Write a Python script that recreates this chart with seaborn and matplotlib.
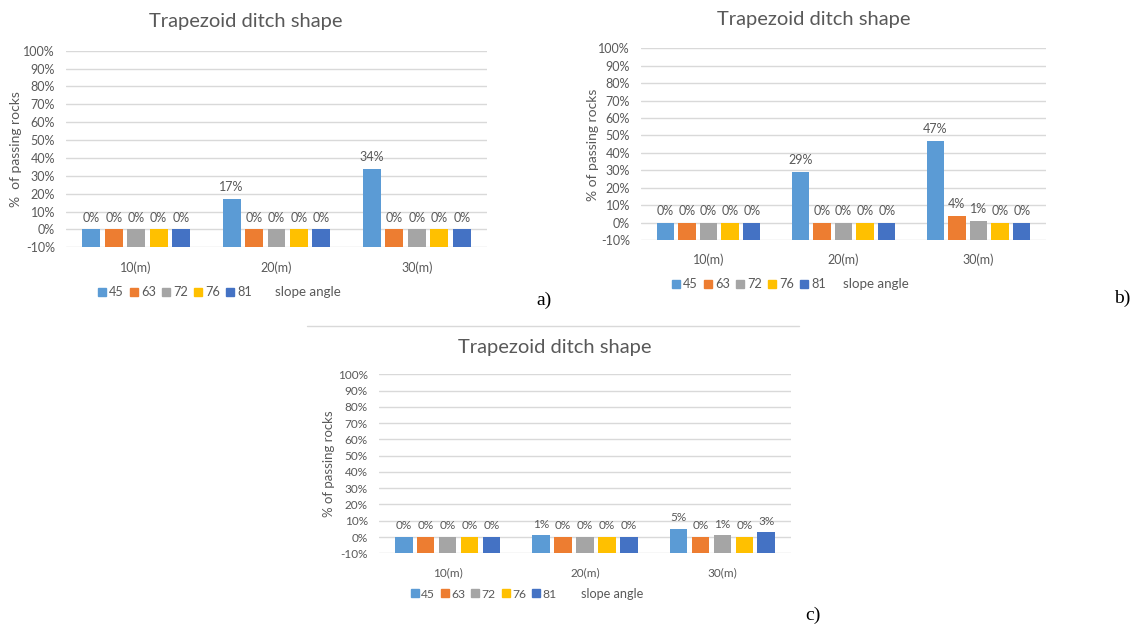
import numpy as np
import pandas as pd
import matplotlib
matplotlib.use("Agg")
import matplotlib.pyplot as plt
from matplotlib.lines import Line2D
import seaborn as sns

# ---- data -------------------------------------------------------------
distances = ["10(m)", "20(m)", "30(m)"]
angles = ["45", "63", "72", "76", "81"]

# % of passing rocks, one row per distance, one column per slope angle
panel_a = [[0, 0, 0, 0, 0],
           [17, 0, 0, 0, 0],
           [34, 0, 0, 0, 0]]
panel_b = [[0, 0, 0, 0, 0],
           [29, 0, 0, 0, 0],
           [47, 4, 1, 0, 0]]
panel_c = [[0, 0, 0, 0, 0],
           [1, 0, 0, 0, 0],
           [5, 0, 1, 0, 3]]

y_ticks = list(range(-10, 101, 10))
title = "Trapezoid ditch shape"
legend_title = "slope angle"

colors = ["#5B9BD5", "#ED7D31", "#A5A5A5", "#FFC000", "#4472C4"]
palette = dict(zip(angles, colors))

TXT = "#595959"
GRID = "#D9D9D9"
W, H = 1135, 625

sns.set_theme(style="white")
plt.rcParams["font.family"] = ["Lato", "DejaVu Sans"]

fig = plt.figure(figsize=(W / 100, H / 100), dpi=100)


def fx(px):
    return px / W


def fy(py):
    return 1 - py / H


def long_form(values):
    rows = []
    for d, row in zip(distances, values):
        for a, v in zip(angles, row):
            rows.append({"distance": d, "angle": a, "value": v})
    return pd.DataFrame(rows)


def draw_panel(values, box, title_xy, ylabel, ylabel_xy, legend_xy, slope_x,
               tag, tag_xy, fs=9.0):
    left, top, right, bottom = box
    ax = fig.add_axes([fx(left), fy(bottom), fx(right - left), (bottom - top) / H])
    df = long_form(values)
    sns.barplot(data=df, x="distance", y="value", hue="angle",
                order=distances, hue_order=angles, palette=palette,
                saturation=1, width=0.8, gap=0.2, linewidth=0,
                errorbar=None, legend=False, ax=ax)
    ymin = y_ticks[0]
    # bars rise from the bottom of the value axis, as in the spreadsheet chart
    for cont in ax.containers:
        for patch, v in zip(cont.patches, cont.datavalues):
            patch.set_y(ymin)
            patch.set_height(v - ymin)
        ax.bar_label(cont, labels=[f"{v:.0f}%" for v in cont.datavalues],
                     padding=4, fontsize=fs, color=TXT)
    ax.set_ylim(ymin, y_ticks[-1])
    ax.set_xlim(-0.5, len(distances) - 0.5)
    ax.set_yticks(y_ticks)
    ax.set_yticklabels([f"{t}%" for t in y_ticks])
    ax.yaxis.grid(True, color=GRID, linewidth=1)
    ax.set_axisbelow(True)
    for s in ax.spines.values():
        s.set_visible(False)
    ax.tick_params(axis="both", length=0, colors=TXT, labelsize=fs)
    ax.tick_params(axis="x", pad=10)
    ax.tick_params(axis="y", pad=8)
    ax.set_xlabel("")
    ax.set_ylabel("")
    ax.set_facecolor("none")

    fig.text(fx(title_xy[0]), fy(title_xy[1]), title, ha="center", va="center",
             fontsize=14.5, color=TXT)
    fig.text(fx(ylabel_xy[0]), fy(ylabel_xy[1]), ylabel, ha="center", va="center",
             rotation=90, fontsize=fs + 1, color=TXT)

    handles = [Line2D([], [], marker="s", linestyle="none", color=c,
                      markersize=6) for c in colors]
    fig.legend(handles, angles, loc="center left",
               bbox_to_anchor=(fx(legend_xy[0]), fy(legend_xy[1])),
               ncol=len(angles), frameon=False, fontsize=fs + 0.2,
               labelcolor=TXT, handlelength=0.6, handletextpad=0.25,
               columnspacing=0.5, borderpad=0, borderaxespad=0)
    fig.text(fx(slope_x), fy(legend_xy[1]), legend_title, ha="left",
             va="center", fontsize=fs + 0.6, color=TXT)
    fig.text(fx(tag_xy[0]), fy(tag_xy[1]), tag, ha="left", va="center",
             fontsize=14, color="black", family="Liberation Serif")
    return ax


draw_panel(panel_a, (66, 50.7, 487, 247.3), (246, 21), "%  of passing rocks",
           (16, 149), (98, 292), 275, "a)", (536, 300))
draw_panel(panel_b, (641, 48.3, 1046, 240), (814, 19), "% of passing rocks",
           (593, 145), (672, 284), 843, "b)", (1114, 298))
draw_panel(panel_c, (379, 374.3, 791, 553.3), (555, 347), "% of passing rocks",
           (329, 464), (411, 594), 581, "c)", (805, 615), fs=8.5)

# top border of the lower chart area
fig.add_artist(Line2D([fx(307), fx(799)], [fy(326), fy(326)],
                      color=GRID, linewidth=1))

fig.savefig("out.png", dpi=100, facecolor="white")
